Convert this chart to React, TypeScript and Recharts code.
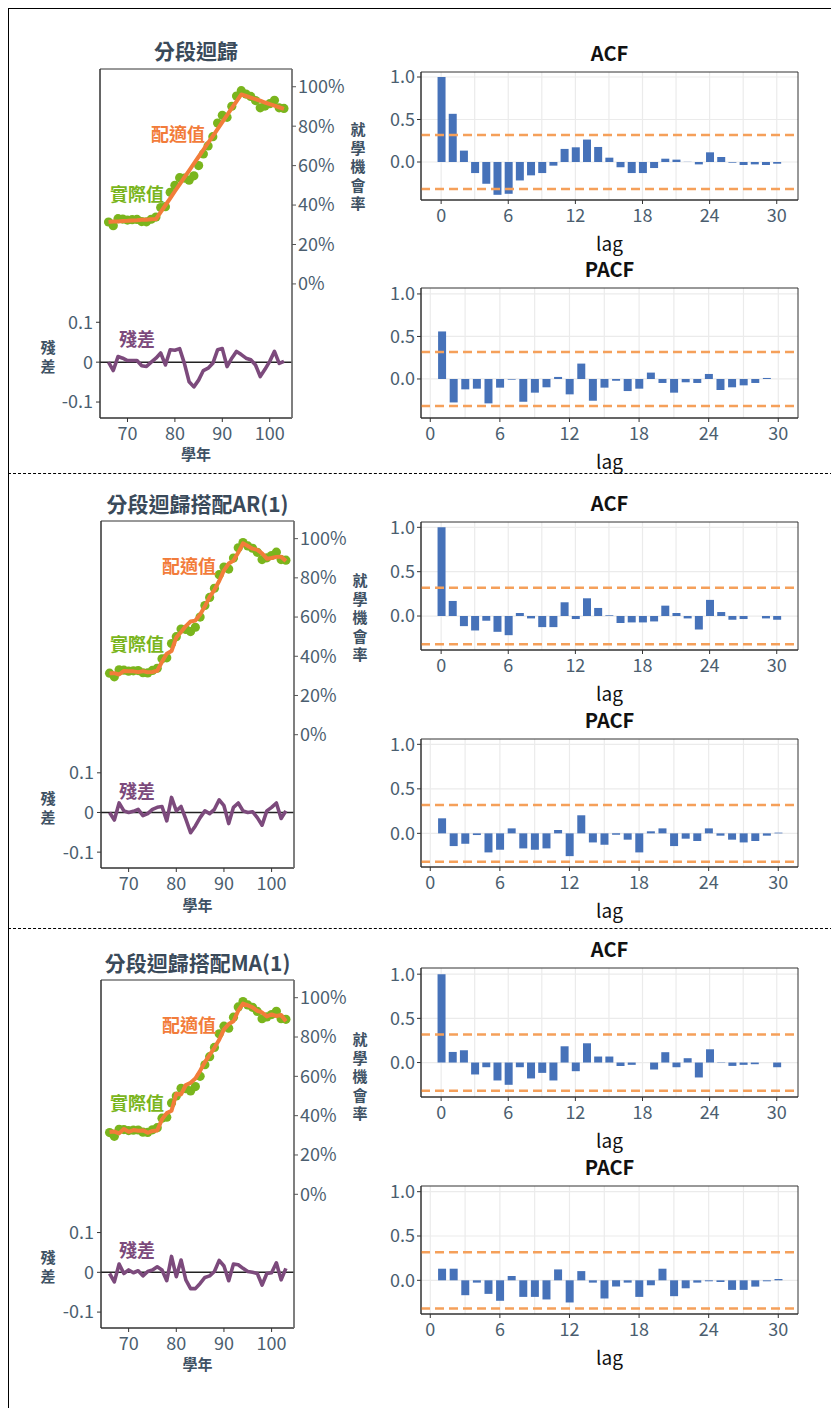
import React from 'react';
import {
  ComposedChart,
  Line,
  Bar,
  XAxis,
  YAxis,
  CartesianGrid,
  ReferenceLine,
  ReferenceArea,
} from 'recharts';

const FONT = '"Noto Sans CJK TC", "Noto Sans", sans-serif';
const SLATE = '#4b5e6f';
const TITLE = '#3a4a5a';
const GREEN = '#7ab51d';
const ORANGE = '#f27c3a';
const PURPLE = '#7c4a7c';
const BLUE = '#4672b9';
const DASH = '#f5a05a';

// 學年 66..103
const years = [
  66, 67, 68, 69, 70, 71, 72, 73, 74, 75, 76, 77, 78, 79, 80, 81, 82, 83, 84,
  85, 86, 87, 88, 89, 90, 91, 92, 93, 94, 95, 96, 97, 98, 99, 100, 101, 102, 103,
];
// 就學機會率 (%)
const actualRate = [
  31.4, 29.5, 33.1, 32.9, 32.4, 32.6, 32.7, 31.6, 31.5, 32.8, 33.9, 38.7, 39.2,
  46.5, 50.0, 53.9, 53.7, 52.6, 54.8, 60.0, 65.9, 70.0, 74.7, 81.6, 85.5, 84.5,
  90.1, 95.3, 98.0, 96.3, 95.1, 93.0, 89.3, 90.2, 91.4, 93.1, 89.3, 89.0,
];
const fitPiecewise = [
  31.4, 31.6, 31.7, 31.9, 32.0, 32.2, 32.3, 32.5, 32.6, 32.8, 32.9, 36.4, 39.9,
  43.4, 47.0, 50.5, 54.0, 57.5, 61.0, 64.5, 68.0, 71.5, 75.0, 78.5, 82.1, 85.6,
  89.1, 92.6, 96.1, 95.3, 94.5, 93.7, 92.9, 92.0, 91.2, 90.4, 89.6, 88.8,
];
const fitAR1 = [
  31.4, 31.4, 30.7, 32.5, 32.4, 32.3, 31.9, 32.4, 31.8, 32.0, 32.6, 37.2, 41.3,
  42.7, 49.6, 52.4, 55.4, 57.7, 58.2, 61.3, 65.5, 70.3, 73.9, 78.4, 83.8, 87.3,
  88.8, 92.9, 97.6, 96.3, 94.9, 94.3, 92.5, 89.8, 90.1, 90.7, 90.8, 88.6,
];
const fitMA1 = [
  31.7, 31.9, 31.0, 33.2, 31.8, 32.7, 32.3, 32.5, 31.3, 32.2, 32.5, 38.1, 41.3,
  42.5, 51.1, 50.8, 55.6, 56.7, 58.9, 62.8, 67.2, 70.9, 74.5, 78.6, 83.9, 86.6,
  88.0, 93.4, 97.0, 96.1, 95.1, 93.3, 92.5, 90.5, 91.5, 90.7, 91.2, 88.0,
];
const residPiecewise = [
  0, -0.021, 0.014, 0.01, 0.004, 0.004, 0.004, -0.009, -0.011, 0, 0.01, 0.023,
  -0.007, 0.031, 0.03, 0.034, -0.003, -0.049, -0.062, -0.045, -0.021, -0.015,
  -0.003, 0.031, 0.034, -0.011, 0.01, 0.027, 0.019, 0.01, 0.006, -0.007, -0.036,
  -0.018, 0.002, 0.027, -0.003, 0.002,
];
const residAR1 = [
  0, -0.019, 0.024, 0.004, 0, 0.003, 0.008, -0.008, -0.003, 0.008, 0.013, 0.015,
  -0.021, 0.038, 0.004, 0.015, -0.017, -0.051, -0.034, -0.013, 0.004, -0.003,
  0.008, 0.032, 0.017, -0.028, 0.013, 0.024, 0.004, 0, 0.002, -0.013, -0.032,
  0.004, 0.013, 0.024, -0.015, 0.004,
];
const residMA1 = [
  -0.003, -0.024, 0.021, -0.003, 0.006, -0.001, 0.004, -0.009, 0.002, 0.006,
  0.014, 0.006, -0.021, 0.04, -0.011, 0.031, -0.019, -0.041, -0.041, -0.028,
  -0.013, -0.009, 0.002, 0.03, 0.016, -0.021, 0.021, 0.019, 0.01, 0.002, 0,
  -0.003, -0.032, -0.003, -0.001, 0.024, -0.019, 0.01,
];

const acfLags = [
  0, 1, 2, 3, 4, 5, 6, 7, 8, 9, 10, 11, 12, 13, 14, 15, 16, 17, 18, 19, 20, 21,
  22, 23, 24, 25, 26, 27, 28, 29, 30,
];
const pacfLags = acfLags.slice(1);

const acfPiecewise = [
  1.0, 0.567, 0.134, -0.13, -0.256, -0.386, -0.374, -0.217, -0.157, -0.13,
  -0.043, 0.154, 0.173, 0.264, 0.177, 0.051, -0.063, -0.13, -0.13, -0.071, 0.039,
  0.028, 0.002, -0.028, 0.114, 0.059, -0.008, -0.035, -0.028, -0.035, -0.02,
];
const pacfPiecewise = [
  0.559, -0.276, -0.122, -0.114, -0.287, -0.102, -0.008, -0.268, -0.161, -0.098,
  0.024, -0.181, 0.181, -0.256, -0.102, -0.02, -0.142, -0.114, 0.075, -0.047,
  -0.161, -0.039, -0.047, 0.059, -0.13, -0.098, -0.075, -0.047, 0.012, 0,
];
const acfAR1 = [
  1.0, 0.17, -0.114, -0.163, -0.053, -0.178, -0.216, 0.034, -0.027, -0.125,
  -0.125, 0.155, -0.034, 0.2, 0.091, 0.008, -0.08, -0.072, -0.072, -0.061, 0.117,
  0.034, -0.027, -0.152, 0.182, 0.045, -0.042, -0.034, 0, -0.027, -0.042,
];
const pacfAR1 = [
  0.169, -0.143, -0.117, -0.019, -0.214, -0.184, 0.056, -0.169, -0.184, -0.169,
  0.038, -0.256, 0.203, -0.102, -0.128, -0.015, -0.071, -0.214, 0.023, 0.056,
  -0.143, -0.06, -0.086, 0.056, -0.026, -0.071, -0.102, -0.086, -0.026, 0.008,
];
const acfMA1 = [
  1.0, 0.12, 0.139, -0.135, -0.053, -0.203, -0.252, -0.053, -0.18, -0.117,
  -0.203, 0.184, -0.098, 0.218, 0.068, 0.068, -0.038, -0.026, 0, -0.079, 0.117,
  -0.053, 0.049, -0.169, 0.15, 0.004, -0.038, -0.026, -0.019, 0, -0.053,
];
const pacfMA1 = [
  0.131, 0.131, -0.168, -0.026, -0.153, -0.231, 0.049, -0.187, -0.187, -0.216,
  0.123, -0.25, 0.104, -0.026, -0.205, -0.071, -0.026, -0.187, -0.056, 0.131,
  -0.179, -0.09, -0.026, -0.011, -0.019, -0.108, -0.108, -0.071, -0.011, 0.015,
];

const CI = 0.318;
const pctTicks = [0, 20, 40, 60, 80, 100];
const residTicks = [-0.1, 0, 0.1];
const yearTicks = [70, 80, 90, 100];
const lagTicks = [0, 6, 12, 18, 24, 30];
const lagGrid = [0, 3, 6, 9, 12, 15, 18, 21, 24, 27, 30];
const corrTicks = [0, 0.5, 1];
const corrGrid = [-0.25, 0, 0.25, 0.5, 0.75, 1];

const YEAR_DOMAIN: [number, number] = [64.2, 104.7];
const PCT_DOMAIN: [number, number] = [-68, 109];
const RES_DOMAIN: [number, number] = [-0.14, 0.735];

const tickStyle = { fill: SLATE, fontSize: 18, fontFamily: FONT };

const Txt: React.FC<{ x: number; y: number; style?: React.CSSProperties; children: React.ReactNode }> = ({
  x,
  y,
  style,
  children,
}) => (
  <div
    style={{
      position: 'absolute',
      left: x,
      top: y,
      transform: 'translate(-50%, -50%)',
      whiteSpace: 'nowrap',
      lineHeight: 1,
      fontFamily: FONT,
      ...style,
    }}
  >
    {children}
  </div>
);

const Stacked: React.FC<{ x: number; y: number; text: string; gap: number }> = ({ x, y, text, gap }) => (
  <Txt x={x} y={y} style={{ fontSize: 15, fontWeight: 700, color: '#3e5163', textAlign: 'center' }}>
    {text.split('').map((c, i) => (
      <div key={i} style={{ height: gap, lineHeight: `${gap}px` }}>
        {c}
      </div>
    ))}
  </Txt>
);

type Frame = { x: number; y: number; w: number; h: number };

const RegressionPanel: React.FC<{
  frame: Frame;
  title: string;
  titleY: number;
  fitted: number[];
  resid: number[];
  fitLabel: [number, number];
  actLabel: [number, number];
  resLabel: [number, number];
  rightTitleY: number;
  leftTitleY: number;
  xTitleY: number;
}> = ({ frame, title, titleY, fitted, resid, fitLabel, actLabel, resLabel, rightTitleY, leftTitleY, xTitleY }) => {
  const leftW = 60;
  const rightW = 88;
  const topM = 10;
  const bottomH = 40;
  const rows = years.map((year, i) => ({
    year,
    actual: actualRate[i],
    fitted: fitted[i],
    resid: resid[i],
  }));
  const cx = frame.x + frame.w / 2;
  const width = leftW + frame.w + rightW;
  const height = topM + frame.h + bottomH;
  const box: React.CSSProperties = { position: 'absolute', left: frame.x - leftW, top: frame.y - topM };

  return (
    <>
      <Txt x={cx} y={titleY} style={{ fontSize: 21, fontWeight: 700, color: TITLE }}>
        {title}
      </Txt>
      <div style={box}>
        <ComposedChart width={width} height={height} data={rows} margin={{ top: topM, right: 0, bottom: 0, left: 0 }}>
          <XAxis
            dataKey="year"
            type="number"
            domain={YEAR_DOMAIN}
            ticks={yearTicks}
            allowDataOverflow
            height={bottomH}
            tick={tickStyle}
            tickSize={4}
            tickMargin={5}
            axisLine={{ stroke: '#333' }}
            tickLine={{ stroke: '#333' }}
          />
          <YAxis
            yAxisId="res"
            orientation="left"
            type="number"
            domain={RES_DOMAIN}
            ticks={residTicks}
            allowDataOverflow
            width={leftW}
            tick={tickStyle}
            tickSize={4}
            tickMargin={3}
            tickFormatter={(v: number) => (v === 0 ? '0' : v.toFixed(1))}
            axisLine={{ stroke: '#333' }}
            tickLine={{ stroke: '#333' }}
          />
          <YAxis
            yAxisId="pct"
            orientation="right"
            type="number"
            domain={PCT_DOMAIN}
            ticks={pctTicks}
            allowDataOverflow
            width={rightW}
            tick={tickStyle}
            tickSize={4}
            tickMargin={2}
            tickFormatter={(v: number) => `${v}%`}
            axisLine={{ stroke: '#777', strokeWidth: 1.5 }}
            tickLine={{ stroke: '#555' }}
          />
          <ReferenceArea
            yAxisId="pct"
            x1={YEAR_DOMAIN[0]}
            x2={YEAR_DOMAIN[1]}
            y1={PCT_DOMAIN[0]}
            y2={PCT_DOMAIN[1]}
            fill="none"
            stroke="#333"
            fillOpacity={0}
          />
          <ReferenceLine yAxisId="res" y={0} stroke="#222" strokeWidth={1.5} />
          <Line
            yAxisId="pct"
            dataKey="actual"
            stroke="none"
            dot={{ r: 4.6, fill: GREEN, stroke: 'none' }}
            activeDot={false}
            isAnimationActive={false}
          />
        </ComposedChart>
      </div>
      {/* second layer so the fitted and residual lines sit above the dots */}
      <div style={{ ...box, pointerEvents: 'none' }}>
        <ComposedChart
          width={width}
          height={height}
          data={rows}
          margin={{ top: topM, right: rightW, bottom: bottomH, left: leftW }}
        >
          <XAxis dataKey="year" type="number" domain={YEAR_DOMAIN} allowDataOverflow hide />
          <YAxis yAxisId="res" type="number" domain={RES_DOMAIN} allowDataOverflow hide />
          <YAxis yAxisId="pct" orientation="right" type="number" domain={PCT_DOMAIN} allowDataOverflow hide />
          <Line
            yAxisId="pct"
            dataKey="fitted"
            type="linear"
            stroke={ORANGE}
            strokeWidth={4}
            strokeLinejoin="round"
            dot={false}
            activeDot={false}
            isAnimationActive={false}
          />
          <Line
            yAxisId="res"
            dataKey="resid"
            type="linear"
            stroke={PURPLE}
            strokeWidth={3.6}
            strokeLinejoin="round"
            dot={false}
            activeDot={false}
            isAnimationActive={false}
          />
        </ComposedChart>
      </div>
      <Txt x={fitLabel[0]} y={fitLabel[1]} style={{ fontSize: 18, fontWeight: 700, color: ORANGE }}>
        配適值
      </Txt>
      <Txt x={actLabel[0]} y={actLabel[1]} style={{ fontSize: 18, fontWeight: 700, color: GREEN }}>
        實際值
      </Txt>
      <Txt x={resLabel[0]} y={resLabel[1]} style={{ fontSize: 18, fontWeight: 700, color: PURPLE }}>
        殘差
      </Txt>
      <Stacked x={frame.x + frame.w + 66} y={rightTitleY} text="就學機會率" gap={18.6} />
      <Stacked x={48} y={leftTitleY} text="殘差" gap={19} />
      <Txt x={cx} y={xTitleY} style={{ fontSize: 15, fontWeight: 700, color: '#3e5163' }}>
        學年
      </Txt>
    </>
  );
};

const CorrPanel: React.FC<{
  frame: Frame;
  title: string;
  lags: number[];
  values: number[];
  xDomain: [number, number];
  yDomain: [number, number];
}> = ({ frame, title, lags, values, xDomain, yDomain }) => {
  const leftW = 60;
  const topM = 16;
  const bottomH = 32;
  const rows = lags.map((lag, i) => ({ lag, v: values[i] }));
  const cx = frame.x + frame.w / 2;

  return (
    <>
      <div style={{ position: 'absolute', left: frame.x - leftW, top: frame.y - topM }}>
        <ComposedChart
          width={leftW + frame.w + 5}
          height={topM + frame.h + bottomH}
          data={rows}
          margin={{ top: topM, right: 5, bottom: 0, left: 0 }}
        >
          <CartesianGrid
            stroke="#ebebeb"
            strokeWidth={1.2}
            horizontalValues={corrGrid}
            verticalValues={lagGrid}
          />
          <XAxis
            dataKey="lag"
            type="number"
            domain={xDomain}
            ticks={lagTicks}
            allowDataOverflow
            height={bottomH}
            tick={tickStyle}
            tickSize={4}
            tickMargin={5}
            axisLine={{ stroke: '#333' }}
            tickLine={{ stroke: '#333' }}
          />
          <YAxis
            type="number"
            domain={yDomain}
            ticks={corrTicks}
            allowDataOverflow
            width={leftW}
            tick={tickStyle}
            tickSize={4}
            tickMargin={2}
            tickFormatter={(v: number) => v.toFixed(1)}
            axisLine={{ stroke: '#333' }}
            tickLine={{ stroke: '#333' }}
          />
          <Bar dataKey="v" fill={BLUE} barSize={8} isAnimationActive={false} />
          <ReferenceLine y={CI} stroke={DASH} strokeWidth={2.5} strokeDasharray="9 5" />
          <ReferenceLine y={-CI} stroke={DASH} strokeWidth={2.5} strokeDasharray="9 5" />
          <ReferenceArea
            x1={xDomain[0]}
            x2={xDomain[1]}
            y1={yDomain[0]}
            y2={yDomain[1]}
            fill="none"
            fillOpacity={0}
            stroke="#333"
          />
        </ComposedChart>
      </div>
      <Txt x={cx} y={frame.y - 19} style={{ fontSize: 20, fontWeight: 700, color: '#111' }}>
        {title}
      </Txt>
      <Txt x={cx} y={frame.y + frame.h + 42} style={{ fontSize: 19, color: '#111' }}>
        lag
      </Txt>
    </>
  );
};

const ACF_X: [number, number] = [-1.8, 31.9];
const PACF_X: [number, number] = [-0.8, 31.7];

const App: React.FC = () => (
  <div
    style={{
      position: 'absolute',
      left: 0,
      top: 0,
      width: 831,
      height: 1408,
      overflow: 'hidden',
      background: '#fff',
      fontFamily: FONT,
    }}
  >
    <div
      style={{
        position: 'absolute',
        left: 8,
        top: 8,
        width: 840,
        height: 1420,
        borderLeft: '1px solid #000',
        borderTop: '1px solid #000',
      }}
    />
    <div style={{ position: 'absolute', left: 8, top: 473, width: 830, borderTop: '1px dashed #000' }} />
    <div style={{ position: 'absolute', left: 8, top: 928, width: 830, borderTop: '1px dashed #000' }} />

    <RegressionPanel
      frame={{ x: 100, y: 69, w: 192, h: 349 }}
      title="分段迴歸"
      titleY={50}
      fitted={fitPiecewise}
      resid={residPiecewise}
      fitLabel={[178, 133]}
      actLabel={[137, 193]}
      resLabel={[137, 338]}
      rightTitleY={166}
      leftTitleY={356}
      xTitleY={453}
    />
    <RegressionPanel
      frame={{ x: 101, y: 521, w: 193, h: 347 }}
      title="分段迴歸搭配AR(1)"
      titleY={503}
      fitted={fitAR1}
      resid={residAR1}
      fitLabel={[189, 565]}
      actLabel={[137, 643]}
      resLabel={[137, 790]}
      rightTitleY={617}
      leftTitleY={807}
      xTitleY={904}
    />
    <RegressionPanel
      frame={{ x: 101, y: 980, w: 193, h: 348 }}
      title="分段迴歸搭配MA(1)"
      titleY={962}
      fitted={fitMA1}
      resid={residMA1}
      fitLabel={[189, 1024]}
      actLabel={[137, 1102]}
      resLabel={[137, 1249]}
      rightTitleY={1076}
      leftTitleY={1266}
      xTitleY={1363}
    />

    <CorrPanel frame={{ x: 421, y: 72, w: 377, h: 128 }} title="ACF" lags={acfLags} values={acfPiecewise} xDomain={ACF_X} yDomain={[-0.447, 1.059]} />
    <CorrPanel frame={{ x: 421, y: 288, w: 377, h: 130 }} title="PACF" lags={pacfLags} values={pacfPiecewise} xDomain={PACF_X} yDomain={[-0.459, 1.07]} />
    <CorrPanel frame={{ x: 421, y: 522, w: 377, h: 128 }} title="ACF" lags={acfLags} values={acfAR1} xDomain={ACF_X} yDomain={[-0.383, 1.06]} />
    <CorrPanel frame={{ x: 421, y: 739, w: 377, h: 128 }} title="PACF" lags={pacfLags} values={pacfAR1} xDomain={PACF_X} yDomain={[-0.378, 1.06]} />
    <CorrPanel frame={{ x: 421, y: 968, w: 377, h: 129 }} title="ACF" lags={acfLags} values={acfMA1} xDomain={ACF_X} yDomain={[-0.39, 1.07]} />
    <CorrPanel frame={{ x: 421, y: 1186, w: 377, h: 128 }} title="PACF" lags={pacfLags} values={pacfMA1} xDomain={PACF_X} yDomain={[-0.38, 1.064]} />
  </div>
);

export default App;
